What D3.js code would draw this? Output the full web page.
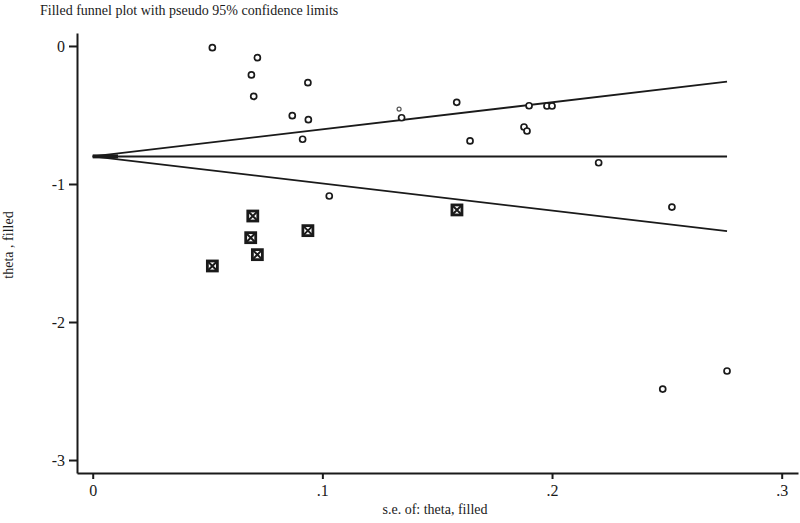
<!DOCTYPE html>
<html><head><meta charset="utf-8">
<script src="https://cdn.jsdelivr.net/npm/d3@7"></script>
<style>body{margin:0;background:#fff}svg{display:block}</style>
</head><body>
<script>
const observedSE = [0.0521,0.0717,0.0691,0.0937,0.0701,0.0869,0.0939,0.0914,0.1345,0.1585,0.1643,0.1900,0.1878,0.1891,0.1978,0.2000,0.2203,0.1030,0.2522,0.2482,0.2762];
const observedTheta = [-0.012,-0.085,-0.210,-0.266,-0.365,-0.505,-0.534,-0.676,-0.520,-0.408,-0.688,-0.433,-0.587,-0.616,-0.435,-0.435,-0.846,-1.087,-1.167,-2.486,-2.355];
const smallSE = [0.1334];
const smallTheta = [-0.457];
const filledSE = [0.0697,0.0688,0.0717,0.0521,0.0937,0.1586];
const filledTheta = [-1.232,-1.389,-1.512,-1.594,-1.338,-1.188];
const pooled = -0.80;
const maxSE = 0.2762;
const xTicks = [0,0.1,0.2,0.3];
const xTickLabels = ["0",".1",".2",".3"];
const yTicks = [0,-1,-2,-3];
const yTickLabels = ["0","-1","-2","-3"];

const W=800,H=523;
const svg=d3.select("body").append("svg").attr("width",W).attr("height",H);
const x=d3.scaleLinear().domain([-0.00684,0.3071]).range([77,798]);
const y=d3.scaleLinear().domain([-3.094,0.094]).range([473,33]);
const font="'Liberation Serif', 'DejaVu Serif', serif";
const ink="#1a1a1a";

// axes
const xAxis=svg.append("g").attr("transform","translate(0,473)")
  .call(d3.axisBottom(x).tickValues(xTicks).tickFormat((d,i)=>xTickLabels[i]).tickSize(6).tickSizeOuter(0));
const yAxis=svg.append("g").attr("transform","translate(77,0)")
  .call(d3.axisLeft(y).tickValues(yTicks).tickFormat((d,i)=>yTickLabels[i]).tickSize(8).tickSizeOuter(0));
[xAxis,yAxis].forEach(g=>{
  g.select(".domain").attr("stroke",ink).attr("stroke-width",2);
  g.selectAll(".tick line").attr("stroke",ink).attr("stroke-width",2);
  g.selectAll(".tick text").attr("fill",ink).style("font-family",font).style("font-size","16px");
});
xAxis.selectAll(".tick text").attr("dy","0.85em");
yAxis.selectAll(".tick text").attr("x",-12);

// funnel lines
const seGrid=[0,maxSE];
const line=d3.line().x(d=>x(d[0])).y(d=>y(d[1]));
svg.append("path").attr("d",line(seGrid.map(s=>[s,pooled]))).attr("stroke",ink).attr("stroke-width",2).attr("fill","none");
svg.append("path").attr("d",line(seGrid.map(s=>[s,pooled+1.96*s]))).attr("stroke",ink).attr("stroke-width",1.8).attr("fill","none");
svg.append("path").attr("d",line(seGrid.map(s=>[s,pooled-1.96*s]))).attr("stroke",ink).attr("stroke-width",1.8).attr("fill","none");
svg.append("path").attr("d",line([[0,pooled],[0.011,pooled]])).attr("stroke",ink).attr("stroke-width",4).attr("fill","none");

// observed points
svg.selectAll("circle.obs").data(observedSE).enter().append("circle")
  .attr("cx",d=>x(d)).attr("cy",(d,i)=>y(observedTheta[i])).attr("r",3)
  .attr("fill","#fff").attr("stroke",ink).attr("stroke-width",1.7);
svg.selectAll("circle.sm").data(smallSE).enter().append("circle")
  .attr("cx",d=>x(d)).attr("cy",(d,i)=>y(smallTheta[i])).attr("r",2)
  .attr("fill","#fff").attr("stroke","#555").attr("stroke-width",1.2);

// filled (imputed) points
const sq=svg.selectAll("g.fill").data(filledSE).enter().append("g")
  .attr("transform",(d,i)=>`translate(${x(d)},${y(filledTheta[i])})`);
sq.append("rect").attr("x",-5).attr("y",-5).attr("width",10).attr("height",10)
  .attr("fill","#fff").attr("stroke",ink).attr("stroke-width",2.8);
sq.append("path").attr("d","M-4,-4L4,4M4,-4L-4,4").attr("stroke",ink).attr("stroke-width",2);

// text
svg.append("text").attr("x",40).attr("y",15).text("Filled funnel plot with pseudo 95% confidence limits")
  .style("font-family",font).style("font-size","14px").attr("fill",ink);
svg.append("text").attr("x",435).attr("y",514).attr("text-anchor","middle").text("s.e. of: theta, filled")
  .style("font-family",font).style("font-size","14px").attr("fill",ink);
svg.append("text").attr("transform","translate(13,245) rotate(-90)").attr("text-anchor","middle").text("theta , filled")
  .style("font-family",font).style("font-size","14px").attr("fill",ink);
</script>
</body></html>
